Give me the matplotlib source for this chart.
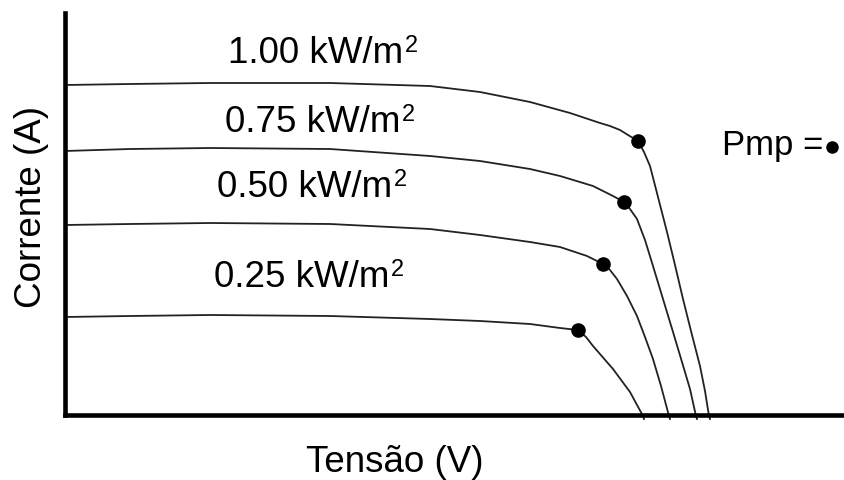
import matplotlib.pyplot as plt

plt.rcParams['font.family'] = ['Liberation Sans', 'DejaVu Sans']

# curvas I-V (unidades arbitrarias), uma por irradiancia
irradiancias = ['1.00', '0.75', '0.50', '0.25']

tensao_100 = [0, 65, 145, 265, 365, 415, 465, 505, 535, 545, 555, 563, 573,
              579, 585, 593, 602, 610, 618, 627, 635, 640, 644, 645]
corrente_100 = [330, 331, 332, 332, 329, 323, 313, 302, 292, 289, 285, 280, 274,
                263, 249, 218, 183, 150, 116, 80, 49, 24, -1, -4]

tensao_075 = [0, 65, 145, 265, 365, 415, 465, 495, 528, 548, 559, 565, 572,
              580, 588, 598, 608, 617, 625, 631, 632]
corrente_075 = [264, 266, 267, 266, 259, 254, 246, 239, 229, 219, 213, 206, 196,
                175, 149, 116, 83, 53, 26, -1, -4]

tensao_050 = [0, 65, 145, 265, 365, 415, 465, 495, 522, 538, 545, 552, 562,
              572, 580, 588, 596, 604, 605]
corrente_050 = [190, 191, 192, 191, 186, 180, 173, 168, 159, 151, 145, 136, 119,
                99, 78, 56, 29, -1, -4]

tensao_025 = [0, 65, 145, 265, 365, 415, 465, 495, 513, 521, 528, 548, 565, 578, 579]
corrente_025 = [98, 99, 100, 99, 96, 94, 91, 87, 85, 78, 69, 46, 23, -1, -4]

# pontos de maxima potencia
pmp_tensao = [573, 559, 538, 513]
pmp_corrente = [274, 213, 151, 85]

# posicao dos rotulos (canto esquerdo, linha de base)
rotulo_x = [163, 160, 152, 149]
rotulo_y = [353, 284, 219, 129]

fig = plt.figure(figsize=(8.45, 4.81), dpi=100)
ax = fig.add_axes([65 / 845, 65 / 481, 780 / 845, 402 / 481])

curvas = [(tensao_100, corrente_100), (tensao_075, corrente_075),
          (tensao_050, corrente_050), (tensao_025, corrente_025)]
for v, i in curvas:
    ax.plot(v, i, color='#222222', lw=1.3, clip_on=False, zorder=2,
            solid_joinstyle='round')

ax.plot(pmp_tensao, pmp_corrente, 'o', color='black', ms=9.5, zorder=3)

for nome, x, y in zip(irradiancias, rotulo_x, rotulo_y):
    t = ax.text(x, y, nome + ' kW/m', fontsize=26.5, ha='left', va='baseline')
    # expoente do m2
    ax.annotate('2', xy=(1, 1), xycoords=t, xytext=(1, 0.5),
                textcoords='offset points', fontsize=17, ha='left', va='top')

ax.text(657, 261, 'Pmp =', fontsize=25, ha='left', va='baseline')
ax.plot([767], [268], 'o', color='black', ms=8, clip_on=False)

ax.set_xlim(0, 780)
ax.set_ylim(0, 402)
ax.spines['top'].set_visible(False)
ax.spines['right'].set_visible(False)
ax.spines['left'].set_linewidth(3.3)
ax.spines['bottom'].set_linewidth(3.3)
ax.set_xticks([])
ax.set_yticks([])

fig.text(395 / 845, 1 - 463 / 481, 'Tensão (V)', fontsize=26.5, ha='center', va='center')
fig.text(32 / 845, 1 - 207 / 481, 'Corrente (A)', fontsize=26.5, ha='center', va='center',
         rotation=90)

fig.savefig('out.png', dpi=100)
